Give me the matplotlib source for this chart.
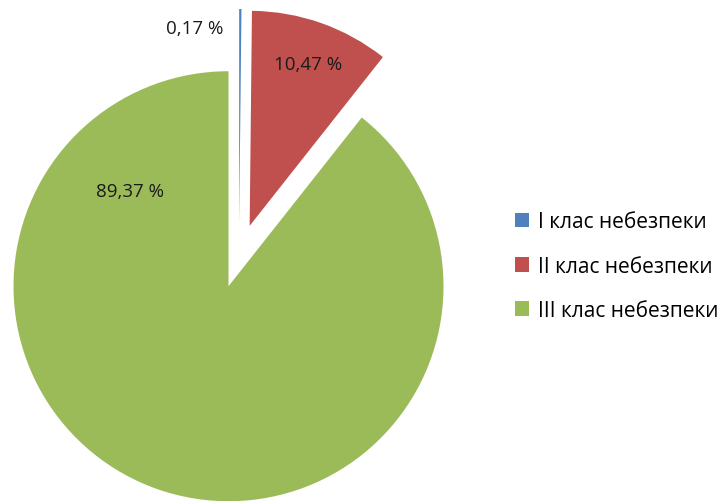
import matplotlib.pyplot as plt

# data
labels = ['I клас небезпеки', 'II клас небезпеки', 'III клас небезпеки']
values = [0.17, 10.47, 89.37]
colors = ['#4F81BD', '#C0504D', '#9BBB59']

plt.rcParams['font.family'] = ['Open Sans', 'DejaVu Sans']

fig = plt.figure(figsize=(7.2, 5.02), dpi=100)
ax = fig.add_axes([0, 0, 1, 1])

# axes in pixel units, explode is absolute (px)
wedges, _ = ax.pie(values, colors=colors, startangle=90, counterclock=False,
                   explode=[32, 32, 32], radius=215, center=(239, 245),
                   wedgeprops=dict(linewidth=0), frame=True)
ax.set_xlim(0, 720)
ax.set_ylim(0, 502)
ax.set_aspect('equal')
ax.axis('off')

# labels (comma decimal)
txt = [('%.2f %%' % v).replace('.', ',') for v in values]
pos = [(195, 473), (308, 437), (130, 310)]
for t, (x, y) in zip(txt, pos):
    ax.text(x, y, t, ha='center', va='center', fontsize=13.5, color='#1a1a1a')

fig.legend(wedges, labels, loc='center left', bbox_to_anchor=(496 / 720, 0.468),
           frameon=False, fontsize=15, handlelength=0.7, handleheight=0.7,
           handletextpad=0.4, labelspacing=1.12)

fig.savefig('out.png', dpi=100)
